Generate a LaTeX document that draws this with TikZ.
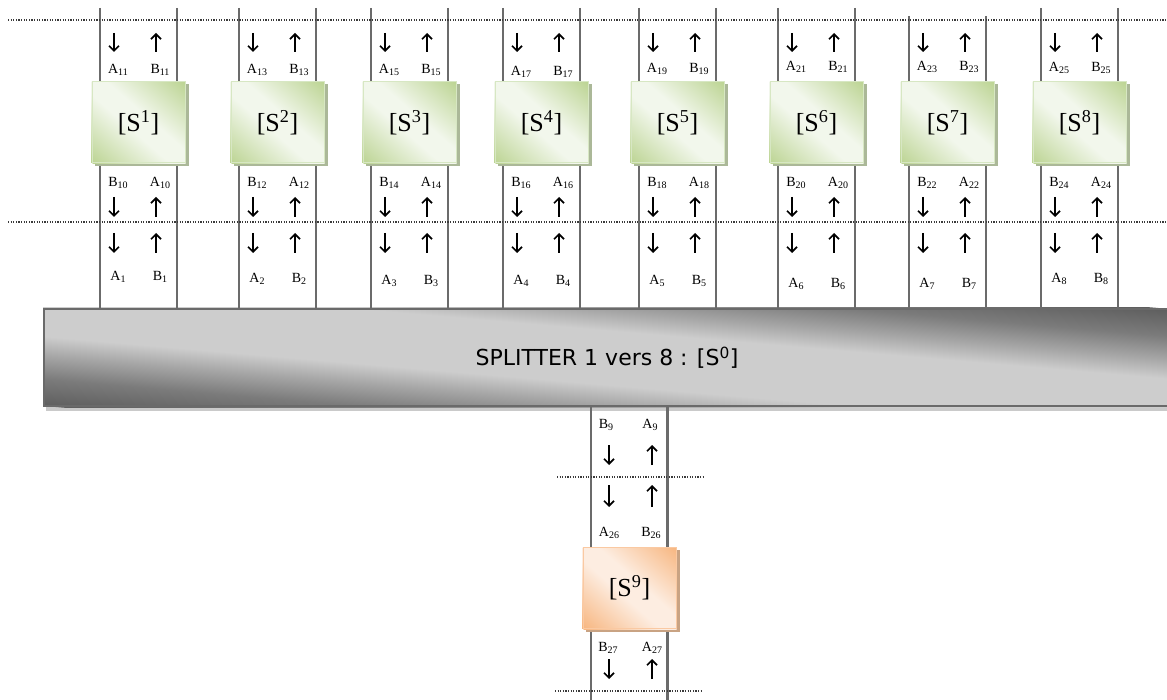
\documentclass[tikz,border=0pt]{standalone}
\usepackage{fontspec}
\setmainfont{Liberation Serif}
\newfontfamily\splitfont{DejaVu Sans}
\usetikzlibrary{arrows.meta,backgrounds}

\definecolor{wire}{HTML}{6B6B6B}
\definecolor{dotc}{HTML}{3A3A3A}
\definecolor{greenhi}{HTML}{F2F7EC}
\definecolor{greenlo}{HTML}{BCD493}
\definecolor{greenedge}{HTML}{D7E7C3}
\definecolor{greensh}{HTML}{ABB898}
\definecolor{orangehi}{HTML}{FDEDE1}
\definecolor{orangelo}{HTML}{F7B680}
\definecolor{orangeedge}{HTML}{FAC9A2}
\definecolor{orangesh}{HTML}{C9A383}
\definecolor{splitdark}{HTML}{5E5E5E}
\definecolor{splitmidA}{HTML}{7B7B7B}
\definecolor{splitmidB}{HTML}{A6A6A6}
\definecolor{splitlight}{HTML}{CDCDCD}
\definecolor{splitedge}{HTML}{6A6A6A}
\definecolor{splitshadow}{HTML}{CACACA}

% band shadings: dark at both ends, light across the middle
\pgfdeclareverticalshading{splitband}{100bp}{color(0bp)=(splitdark); color(25bp)=(splitdark);
  color(32bp)=(splitmidA); color(38bp)=(splitmidB); color(43bp)=(splitlight);
  color(57bp)=(splitlight); color(62bp)=(splitmidB); color(68bp)=(splitmidA);
  color(75bp)=(splitdark); color(100bp)=(splitdark)}
\pgfdeclareverticalshading{greenband}{100bp}{color(0bp)=(greenlo); color(25bp)=(greenlo);
  color(46bp)=(greenhi); color(54bp)=(greenhi); color(75bp)=(greenlo); color(100bp)=(greenlo)}
\pgfdeclareverticalshading{orangeband}{100bp}{color(0bp)=(orangelo); color(25bp)=(orangelo);
  color(46bp)=(orangehi); color(54bp)=(orangehi); color(75bp)=(orangelo); color(100bp)=(orangelo)}

% drop shadow plus a diagonal band shading (light from the top-left to the
% bottom-right corner, dark towards the two other corners) behind a box node
% #1 node, #2 width/100, #3 height/100, #4 shading, #5 shadow colour, #6 shadow drop
\newcommand{\boxshade}[6]{%
  \fill[#5] ([shift={(3,#6)}]#1.south west) rectangle ([shift={(3,#6)}]#1.north east);
  \begin{scope}
    \clip (#1.south west) rectangle (#1.north east);
    \begin{scope}[transform canvas={shift={(#1.center)}, cm={#2,-#3,#2,#3,(0,0)}}]
      \shade[shading=#4] (-60,-50) rectangle (60,50);
    \end{scope}
  \end{scope}}

% port index, set small and slightly lowered
\newcommand{\portsub}[1]{\raisebox{-0.25ex}{\fontsize{10}{10}\selectfont #1}}

\tikzset{
  wireline/.style={draw=wire, line width=2.4pt},
  sepline/.style={draw=dotc, line width=1.1pt, dash pattern=on 1.1pt off 1.5pt},
  dnarrow/.style={line width=1.7pt, -{Straight Barb[length=5pt,width=10pt]}},
  lbl/.style={font=\fontsize{14}{14}\selectfont, inner sep=0pt},
  modbox/.style={minimum width=93pt, minimum height=81pt, inner sep=0pt,
    line width=1pt, font=\fontsize{26}{26}\selectfont},
  greenbox/.style={modbox, draw=greenedge},
  orangebox/.style={modbox, draw=orangeedge},
  splitter/.style={minimum width=1126pt, minimum height=97pt, inner sep=0pt,
    draw=splitedge, line width=2pt,
    font=\splitfont\fontsize{22}{22}\selectfont},
}

\begin{document}
\begin{tikzpicture}[x=1pt,y=-1pt]
\useasboundingbox (0,0) rectangle (1167,700);

% the 1-to-8 splitter
\node[splitter, anchor=north west] (split) at (43,308)
  {SPLITTER 1 vers 8 : [S\textsuperscript{0}]};
\begin{scope}[on background layer]
  \boxshade{split}{11.26}{0.97}{splitband}{splitshadow}{4}
\end{scope}

% dotted separators
\coordinate (sepTa) at (8,20);   \coordinate (sepTb) at (1167,20);
\coordinate (sepMa) at (8,222);  \coordinate (sepMb) at (1167,222);
\coordinate (sepBa) at (557,477); \coordinate (sepBb) at (703,477);
\coordinate (sepCa) at (555,691); \coordinate (sepCb) at (701,691);

% eight upper stages
\foreach \k/\cx/\ty/\by/\lt in {1/138.5/70/277/8, 2/277.5/70/279/8, 3/409.5/70/281/8,
    4/541.5/72/281/8, 5/677.5/69/281/8, 6/816.5/67/284/8, 7/947.5/67/284/16,
    8/1079.5/68/279/8}{
  \pgfmathtruncatemacro\na{2*\k+9}
  \pgfmathtruncatemacro\nb{2*\k+8}
  \node[greenbox] (s\k) at (\cx,122.5) {[S\textsuperscript{\k}]};
  \coordinate (l\k) at (\cx-38.5,\lt);
  \coordinate (r\k) at (\cx+38.5,\lt);
  \begin{scope}[on background layer]
    \draw[wireline] (l\k) -- (l\k |- s\k.north);
    \draw[wireline] (r\k) -- (r\k |- s\k.north);
    \draw[wireline] (l\k |- s\k.south) -- (l\k |- split.north);
    \draw[wireline] (r\k |- s\k.south) -- (r\k |- split.north);
    \boxshade{s\k}{0.93}{0.81}{greenband}{greensh}{3}
  \end{scope}
  % signal directions
  \foreach \ya/\yb in {33/52, 197/217, 233/253}{
    \draw[dnarrow] (\cx-24.5,\ya) -- (\cx-24.5,\yb);
    \draw[dnarrow] (\cx+17.5,\yb) -- (\cx+17.5,\ya);
  }
  % port names
  \node[lbl] (ta\k) at (\cx-20.5,\ty) {A\portsub{\na}};
  \node[lbl] (tb\k) at (\cx+21.5,\ty) {B\portsub{\na}};
  \node[lbl] (ma\k) at (\cx-20.5,183) {B\portsub{\nb}};
  \node[lbl] (mb\k) at (\cx+21.5,183) {A\portsub{\nb}};
  \node[lbl] (ba\k) at (\cx-20.5,\by) {A\portsub{\k}};
  \node[lbl] (bb\k) at (\cx+21.5,\by) {B\portsub{\k}};
}

% lower stage
\node[orangebox] (s9) at (629.5,588) {[S\textsuperscript{9}]};
\coordinate (l9) at (591,700);
\coordinate (r9) at (667.5,700);
\begin{scope}[on background layer]
  \draw[wireline] (l9 |- split.south) -- (l9 |- s9.north);
  \draw[wireline] (r9 |- split.south) -- (r9 |- s9.north);
  \draw[wireline] (l9 |- s9.south) -- (l9);
  \draw[wireline] (r9 |- s9.south) -- (r9);
  \boxshade{s9}{0.93}{0.82}{orangeband}{orangesh}{3}
\end{scope}
\foreach \ya/\yb in {445/465, 485/507, 659/679}{
  \draw[dnarrow] (609,\ya) -- (609,\yb);
  \draw[dnarrow] (652,\yb) -- (652,\ya);
}
\node[lbl] (p9a) at (606,425) {B\portsub{9}};
\node[lbl] (p9b) at (650,425) {A\portsub{9}};
\node[lbl] (p26a) at (609,533) {A\portsub{26}};
\node[lbl] (p26b) at (651,533) {B\portsub{26}};
\node[lbl] (p27a) at (608,648) {B\portsub{27}};
\node[lbl] (p27b) at (652,648) {A\portsub{27}};

\draw[sepline] (sepTa) -- (sepTb);
\draw[sepline] (sepMa) -- (sepMb);
\draw[sepline] (sepBa) -- (sepBb);
\draw[sepline] (sepCa) -- (sepCb);
\end{tikzpicture}
\end{document}
